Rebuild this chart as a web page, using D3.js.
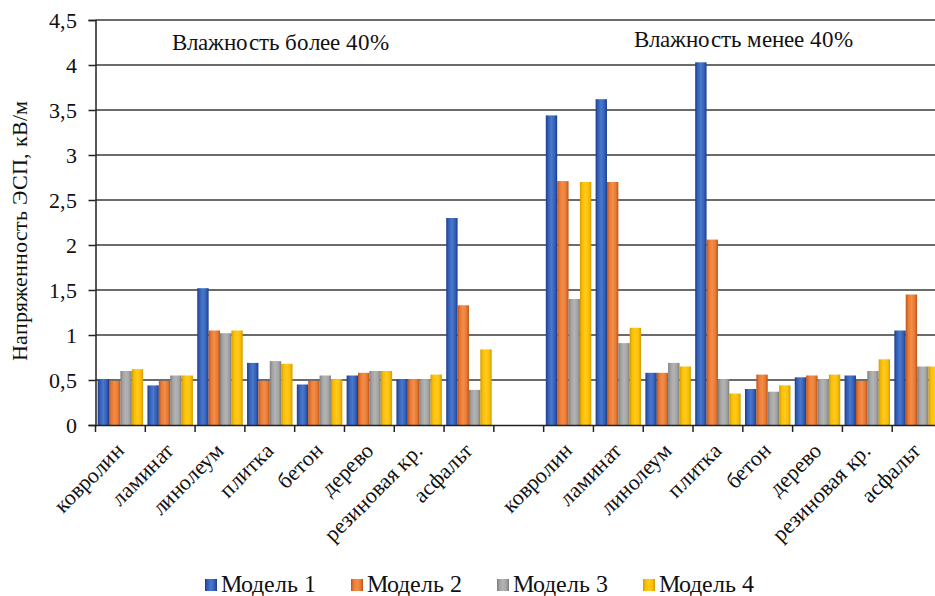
<!DOCTYPE html>
<html><head><meta charset="utf-8"><script src="https://cdn.jsdelivr.net/npm/d3@7"></script>
<style>
@font-face { font-family: "ChartSerif"; src: local("Liberation Serif"), local("LiberationSerif"), local("Tinos"), local("FreeSerif"), local("DejaVu Serif"); }
</style>
</head>
<body>
<script>
// ---- data ----
const categories = ["ковролин","ламинат","линолеум","плитка","бетон","дерево","резиновая кр.","асфальт","",
                    "ковролин","ламинат","линолеум","плитка","бетон","дерево","резиновая кр.","асфальт"];
const seriesNames = ["Модель 1","Модель 2","Модель 3","Модель 4"];
const model1 = [0.51,0.44,1.52,0.69,0.45,0.55,0.51,2.30,null, 3.44,3.62,0.58,4.03,0.40,0.53,0.55,1.05];
const model2 = [0.49,0.49,1.05,0.49,0.49,0.58,0.51,1.33,null, 2.71,2.70,0.58,2.06,0.56,0.55,0.49,1.45];
const model3 = [0.60,0.55,1.02,0.71,0.55,0.60,0.51,0.39,null, 1.40,0.91,0.69,0.51,0.37,0.51,0.60,0.65];
const model4 = [0.62,0.55,1.05,0.68,0.51,0.60,0.56,0.84,null, 2.70,1.08,0.65,0.35,0.44,0.56,0.73,0.65];
const yTicks = [0,0.5,1,1.5,2,2.5,3,3.5,4,4.5];
const annotations = [
  {text: "Влажность более 40%", cat: 2},
  {text: "Влажность менее 40%", cat: 11}
];
const yTitle = "Напряженность ЭСП, кВ/м";

// ---- layout ----
d3.select("body").style("margin", "0px").style("background", "#fff");
const FONT = "ChartSerif, Liberation Serif, Tinos, FreeSerif, serif";
const W = 935, H = 596;
const mLeft = 95.5, mRight = 942, mTop = 20, mBottom = 425;
const series = [model1, model2, model3, model4];
const palette = [
  {dark:"#1c3a8a", mid:"#3461b8", light:"#4a78cc"},
  {dark:"#b9541a", mid:"#ea7a33", light:"#f18e4a"},
  {dark:"#7d7d7d", mid:"#a3a3a3", light:"#b4b4b4"},
  {dark:"#d19c00", mid:"#fbbe00", light:"#ffca22"}
];

const svg = d3.select("body").append("svg").attr("width", W).attr("height", H)
  .attr("font-family", FONT).style("display", "block");
const defs = svg.append("defs");
palette.forEach((c, i) => {
  const g = defs.append("linearGradient").attr("id", "g" + i)
    .attr("x1", "0%").attr("x2", "100%").attr("y1", "0%").attr("y2", "0%");
  g.append("stop").attr("offset", "0%").attr("stop-color", c.dark);
  g.append("stop").attr("offset", "22%").attr("stop-color", c.mid);
  g.append("stop").attr("offset", "50%").attr("stop-color", c.light);
  g.append("stop").attr("offset", "78%").attr("stop-color", c.mid);
  g.append("stop").attr("offset", "100%").attr("stop-color", c.dark);
});

const x = d3.scaleBand().domain(d3.range(categories.length)).range([mLeft, mRight]).paddingInner(0).paddingOuter(0);
const xs = d3.scaleBand().domain(d3.range(series.length)).range([0, x.bandwidth()]).paddingOuter(0.19).paddingInner(0);
const y = d3.scaleLinear().domain([0, 4.5]).range([mBottom, mTop]);

// gridlines
svg.append("g").selectAll("line").data(yTicks.filter(t => t > 0)).join("line")
  .attr("x1", mLeft).attr("x2", W).attr("y1", d => y(d)).attr("y2", d => y(d))
  .attr("stroke", "#3a3a3a").attr("stroke-width", 1.6);

// bars
series.forEach((vals, si) => {
  svg.append("g").selectAll("rect")
    .data(vals.map((v, i) => ({v, i})).filter(d => d.v != null))
    .join("rect")
    .attr("x", d => x(d.i) + xs(si))
    .attr("width", xs.bandwidth())
    .attr("y", d => y(d.v))
    .attr("height", d => y(0) - y(d.v))
    .attr("fill", "url(#g" + si + ")");
});

// y axis
const yAxis = svg.append("g").attr("transform", `translate(${mLeft},0)`)
  .call(d3.axisLeft(y).tickValues(yTicks).tickSize(7).tickPadding(12)
    .tickFormat(d => String(d).replace(".", ",")));
yAxis.attr("font-family", FONT).attr("font-size", 22);
yAxis.select(".domain").attr("stroke", "#222").attr("stroke-width", 1.5);
yAxis.selectAll(".tick line").attr("stroke", "#222").attr("stroke-width", 1.5);
yAxis.selectAll("text").attr("font-family", FONT).attr("font-size", 22).attr("fill", "#111");

// x axis
const xAxis = svg.append("g").attr("transform", `translate(0,${mBottom})`)
  .call(d3.axisBottom(x).tickSize(0).tickFormat(""));
xAxis.select(".domain").attr("stroke", "#222").attr("stroke-width", 1.5);
xAxis.selectAll(".tick").remove();
const bounds = d3.range(categories.length + 1).map(i => mLeft + i * x.step());
svg.append("g").selectAll("line").data(bounds).join("line")
  .attr("x1", d => d).attr("x2", d => d).attr("y1", mBottom).attr("y2", mBottom + 7)
  .attr("stroke", "#222").attr("stroke-width", 1.5);

// category labels
svg.append("g").selectAll("text").data(categories.map((c, i) => ({c, i})).filter(d => d.c !== ""))
  .join("text")
  .attr("transform", d => `translate(${x(d.i) + x.bandwidth() / 2 + 5},${mBottom + 27}) rotate(-45)`)
  .attr("text-anchor", "end")
  .attr("font-family", FONT).attr("font-size", 22).attr("fill", "#111")
  .text(d => d.c);

// annotations
svg.append("g").selectAll("text").data(annotations).join("text")
  .attr("x", d => x(d.cat) + (d.cat === 2 ? -23 : -9))
  .attr("y", (d, i) => i === 0 ? 50 : 47)
  .attr("font-family", FONT).attr("font-size", 23).attr("fill", "#111")
  .text(d => d.text);

// y title
svg.append("text")
  .attr("transform", `translate(27,${(mTop + mBottom) / 2 + 8}) rotate(-90)`)
  .attr("text-anchor", "middle")
  .attr("font-family", FONT).attr("font-size", 22).attr("fill", "#111")
  .text(yTitle);

// legend
const legendX = [205, 351, 497, 643];
const lg = svg.append("g").selectAll("g").data(seriesNames).join("g")
  .attr("transform", (d, i) => `translate(${legendX[i]},579)`);
lg.append("rect").attr("width", 12).attr("height", 12)
  .attr("fill", (d, i) => `url(#g${i})`);
lg.append("text").attr("x", 16).attr("y", 13)
  .attr("font-family", FONT).attr("font-size", 24).attr("fill", "#111")
  .text(d => d);
</script>
</body></html>
